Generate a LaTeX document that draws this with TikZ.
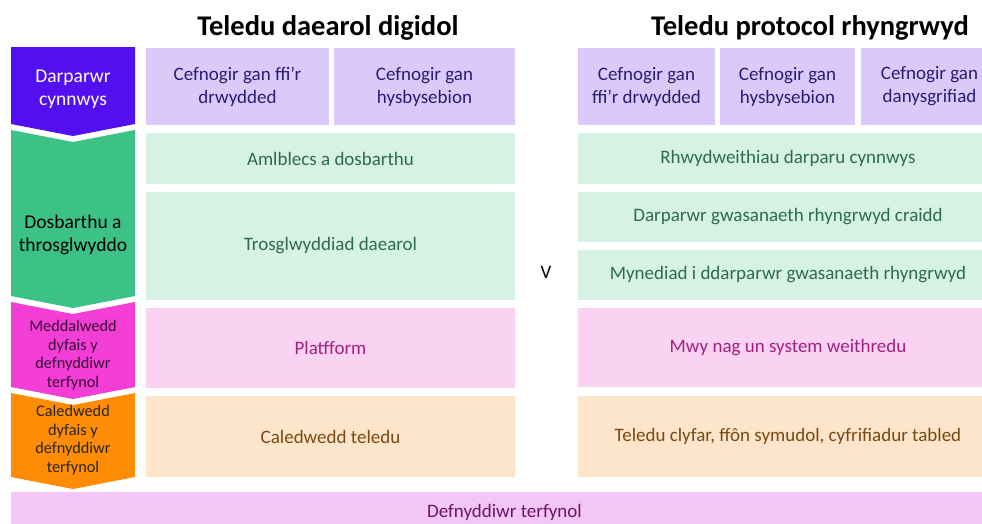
\documentclass[tikz,border=0pt]{standalone}
\usepackage{fontspec}
\setmainfont{Carlito}
\begin{document}
\begin{tikzpicture}[x=1pt,y=-1pt,
  every node/.style={inner sep=0pt, outer sep=0pt, align=center},
  box/.style={rectangle, font=\fontsize{19}{23}\selectfont},
  pbox/.style={box, fill=lpurple, text=tpurple},
  gbox/.style={box, fill=lgreen, text=tgreen},
  kbox/.style={box, fill=lpink, text=tpink},
  obox/.style={box, fill=lorange, text=torange},
  chevtext/.style={font=\fontsize{19.5}{23}\selectfont},
  chevsmall/.style={font=\fontsize{16.3}{18.7}\selectfont},
  title/.style={font=\bfseries\fontsize{28.5}{32}\selectfont}]
\definecolor{cpurple}{HTML}{5210F0}
\definecolor{cgreen}{HTML}{3CC286}
\definecolor{cmagenta}{HTML}{F23ED4}
\definecolor{corange}{HTML}{FF8C04}
\definecolor{lpurple}{HTML}{DAC9F9}
\definecolor{tpurple}{HTML}{2B1C72}
\definecolor{lgreen}{HTML}{D6F2E4}
\definecolor{tgreen}{HTML}{2E6B4C}
\definecolor{lpink}{HTML}{FAD3F3}
\definecolor{tpink}{HTML}{A3207F}
\definecolor{lorange}{HTML}{FCE5CB}
\definecolor{torange}{HTML}{7A4810}
\definecolor{lbar}{HTML}{F3C6F6}
\definecolor{tbar}{HTML}{6C1462}
\definecolor{tdark}{HTML}{3A0E38}
\useasboundingbox (0,0) rectangle (982,523);
% titles
\node[title] (t1) at (328,28) {Teledu daearol digidol};
\node[title] (t2) at (810,28) {Teledu protocol rhyngrwyd};
% chevrons
\fill[cpurple] (11,47) -- (135,47) -- (135,124) -- (73,136) -- (11,124) -- cycle;
\fill[cgreen] (11,130) -- (73,142) -- (135,130) -- (135,296) -- (73,308) -- (11,296) -- cycle;
\fill[cmagenta] (11,302) -- (73,314) -- (135,302) -- (135,387) -- (73,399) -- (11,387) -- cycle;
\fill[corange] (11,393) -- (73,405) -- (135,393) -- (135,477) -- (73,489) -- (11,477) -- cycle;
\node[chevtext, text=white] (c1) at (73,89) {Darparwr\\cynnwys};
\node[chevtext, text=black] (c2) at (73,235) {Dosbarthu a\\throsglwyddo};
\node[chevsmall, text=tdark] (c3) at (73,355) {Meddalwedd\\dyfais y\\defnyddiwr\\terfynol};
\node[chevsmall, text=black!85] (c4) at (73,440) {Caledwedd\\dyfais y\\defnyddiwr\\terfynol};
% left column
\node[pbox, minimum width=183, minimum height=77] (lp1) at (237.5,86.5) {Cefnogir gan ffi’r\\drwydded};
\node[pbox, minimum width=181, minimum height=77] (lp2) at (424.5,86.5) {Cefnogir gan\\hysbysebion};
\node[gbox, minimum width=369, minimum height=51] (lg1) at (330.5,158.5) {Amlblecs a dosbarthu};
\node[gbox, minimum width=369, minimum height=108] (lg2) at (330.5,246) {Trosglwyddiad daearol};
\node[kbox, minimum width=369, minimum height=80] (lk) at (330.5,348) {Platfform};
\node[obox, minimum width=369, minimum height=81] (lo) at (330.5,436.5) {Caledwedd teledu};
% versus
\node[font=\fontsize{19}{22}\selectfont] (v) at (546,272) {V};
% right column
\node[pbox, minimum width=137, minimum height=77] (rp1) at (646.5,86.5) {Cefnogir gan\\ffi’r drwydded};
\node[pbox, minimum width=135, minimum height=77] (rp2) at (787.5,86.5) {Cefnogir gan\\hysbysebion};
\node[pbox, minimum width=137, minimum height=77] (rp3) at (929.5,86.5) {Cefnogir gan\\danysgrifiad};
\node[gbox, minimum width=420, minimum height=51] (rg1) at (788,158.5) {Rhwydweithiau darparu cynnwys};
\node[gbox, minimum width=420, minimum height=50] (rg2) at (788,217) {Darparwr gwasanaeth rhyngrwyd craidd};
\node[gbox, minimum width=420, minimum height=50] (rg3) at (788,275) {Mynediad i ddarparwr gwasanaeth rhyngrwyd};
\node[kbox, minimum width=420, minimum height=79] (rk) at (788,347.5) {Mwy nag un system weithredu};
\node[obox, minimum width=420, minimum height=81] (ro) at (788,436.5) {Teledu clyfar, ffôn symudol, cyfrifiadur tabled};
% bottom bar
\node[box, fill=lbar, text=tbar, minimum width=987, minimum height=40] (bar) at (504.5,512) {Defnyddiwr terfynol};
\end{tikzpicture}
\end{document}
